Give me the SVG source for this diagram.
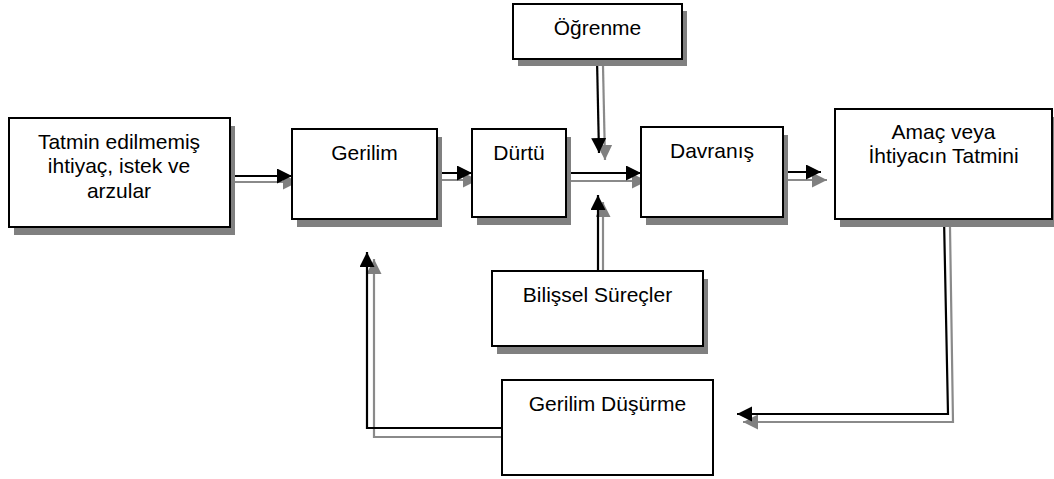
<svg xmlns="http://www.w3.org/2000/svg" width="1054" height="479" viewBox="0 0 1054 479">
<style>
.box{fill:#fff;stroke:#000;stroke-width:2}
.sh{fill:#808080}
.t{font-family:"Liberation Sans",Arial,sans-serif;font-size:21px;fill:#000;text-anchor:middle}
.bl{fill:none;stroke:#000;stroke-width:2.2}
.gl{fill:none;stroke:#8a8a8a;stroke-width:2.2}
</style>
<defs>
<marker id="ab" markerUnits="userSpaceOnUse" markerWidth="16" markerHeight="16" refX="15" refY="7.5" orient="auto"><path d="M0,0 L15,7.5 L0,15 z" fill="#000"/></marker>
<marker id="ag" markerUnits="userSpaceOnUse" markerWidth="16" markerHeight="16" refX="15" refY="7.5" orient="auto"><path d="M0,0 L15,7.5 L0,15 z" fill="#808080"/></marker>
</defs>
<rect width="1054" height="479" fill="#fff"/>
<g id="connectors">
<path class="gl" d="M235,182 H298" marker-end="url(#ag)"/>
<path class="bl" d="M230,176 H292" marker-end="url(#ab)"/>
<path class="gl" d="M442,180 H478" marker-end="url(#ag)"/>
<path class="bl" d="M437,173 H472" marker-end="url(#ab)"/>
<path class="gl" d="M571,181 H647" marker-end="url(#ag)"/>
<path class="bl" d="M566,173 H641" marker-end="url(#ab)"/>
<path class="gl" d="M788,180 H827" marker-end="url(#ag)"/>
<path class="bl" d="M783,172 H821" marker-end="url(#ab)"/>
<path class="gl" d="M603,66 L605,160" marker-end="url(#ag)"/>
<path class="bl" d="M597,59 L599,153" marker-end="url(#ab)"/>
<path class="gl" d="M603,282 V202" marker-end="url(#ag)"/>
<path class="bl" d="M598,271 V195" marker-end="url(#ab)"/>
<path class="gl" d="M950,227 L953,422 H743" marker-end="url(#ag)"/>
<path class="bl" d="M944,218 L948,414 H737" marker-end="url(#ab)"/>
<path class="gl" d="M508,437 H374 V259" marker-end="url(#ag)"/>
<path class="bl" d="M502,428 H367 V252" marker-end="url(#ab)"/>
</g>
<g id="tatmin">
<rect class="sh" x="14" y="126" width="221" height="109"/>
<rect class="box" x="9" y="118" width="221" height="109"/>
<text class="t" x="119" y="148.5">Tatmin edilmemiş</text>
<text class="t" x="119" y="173">ihtiyaç, istek ve</text>
<text class="t" x="119" y="197.5">arzular</text>
</g>
<g id="gerilim">
<rect class="sh" x="297" y="137" width="145" height="90"/>
<rect class="box" x="292" y="129" width="145" height="90"/>
<text class="t" x="364.5" y="160">Gerilim</text>
</g>
<g id="durtu">
<rect class="sh" x="477" y="137" width="94" height="88"/>
<rect class="box" x="472" y="129" width="94" height="88"/>
<text class="t" x="519" y="160">Dürtü</text>
</g>
<g id="davranis">
<rect class="sh" x="646" y="135" width="142" height="90"/>
<rect class="box" x="641" y="127" width="142" height="90"/>
<text class="t" x="712" y="158">Davranış</text>
</g>
<g id="amac">
<rect class="sh" x="840" y="117" width="217" height="110"/>
<rect class="box" x="835" y="109" width="217" height="110"/>
<text class="t" x="943.5" y="139">Amaç veya</text>
<text class="t" x="943.5" y="163">İhtiyacın Tatmini</text>
</g>
<g id="ogrenme">
<rect class="sh" x="518" y="11" width="169" height="55"/>
<rect class="box" x="513" y="4" width="169" height="55"/>
<text class="t" x="597.5" y="35">Öğrenme</text>
</g>
<g id="bilissel">
<rect class="sh" x="497" y="279" width="211" height="75"/>
<rect class="box" x="492" y="271" width="211" height="75"/>
<text class="t" x="597.5" y="302">Bilişsel Süreçler</text>
</g>
<g id="gerilim-dusurme">
<rect class="box" x="502" y="380" width="211" height="95"/>
<text class="t" x="607.5" y="411">Gerilim Düşürme</text>
</g>
</svg>
